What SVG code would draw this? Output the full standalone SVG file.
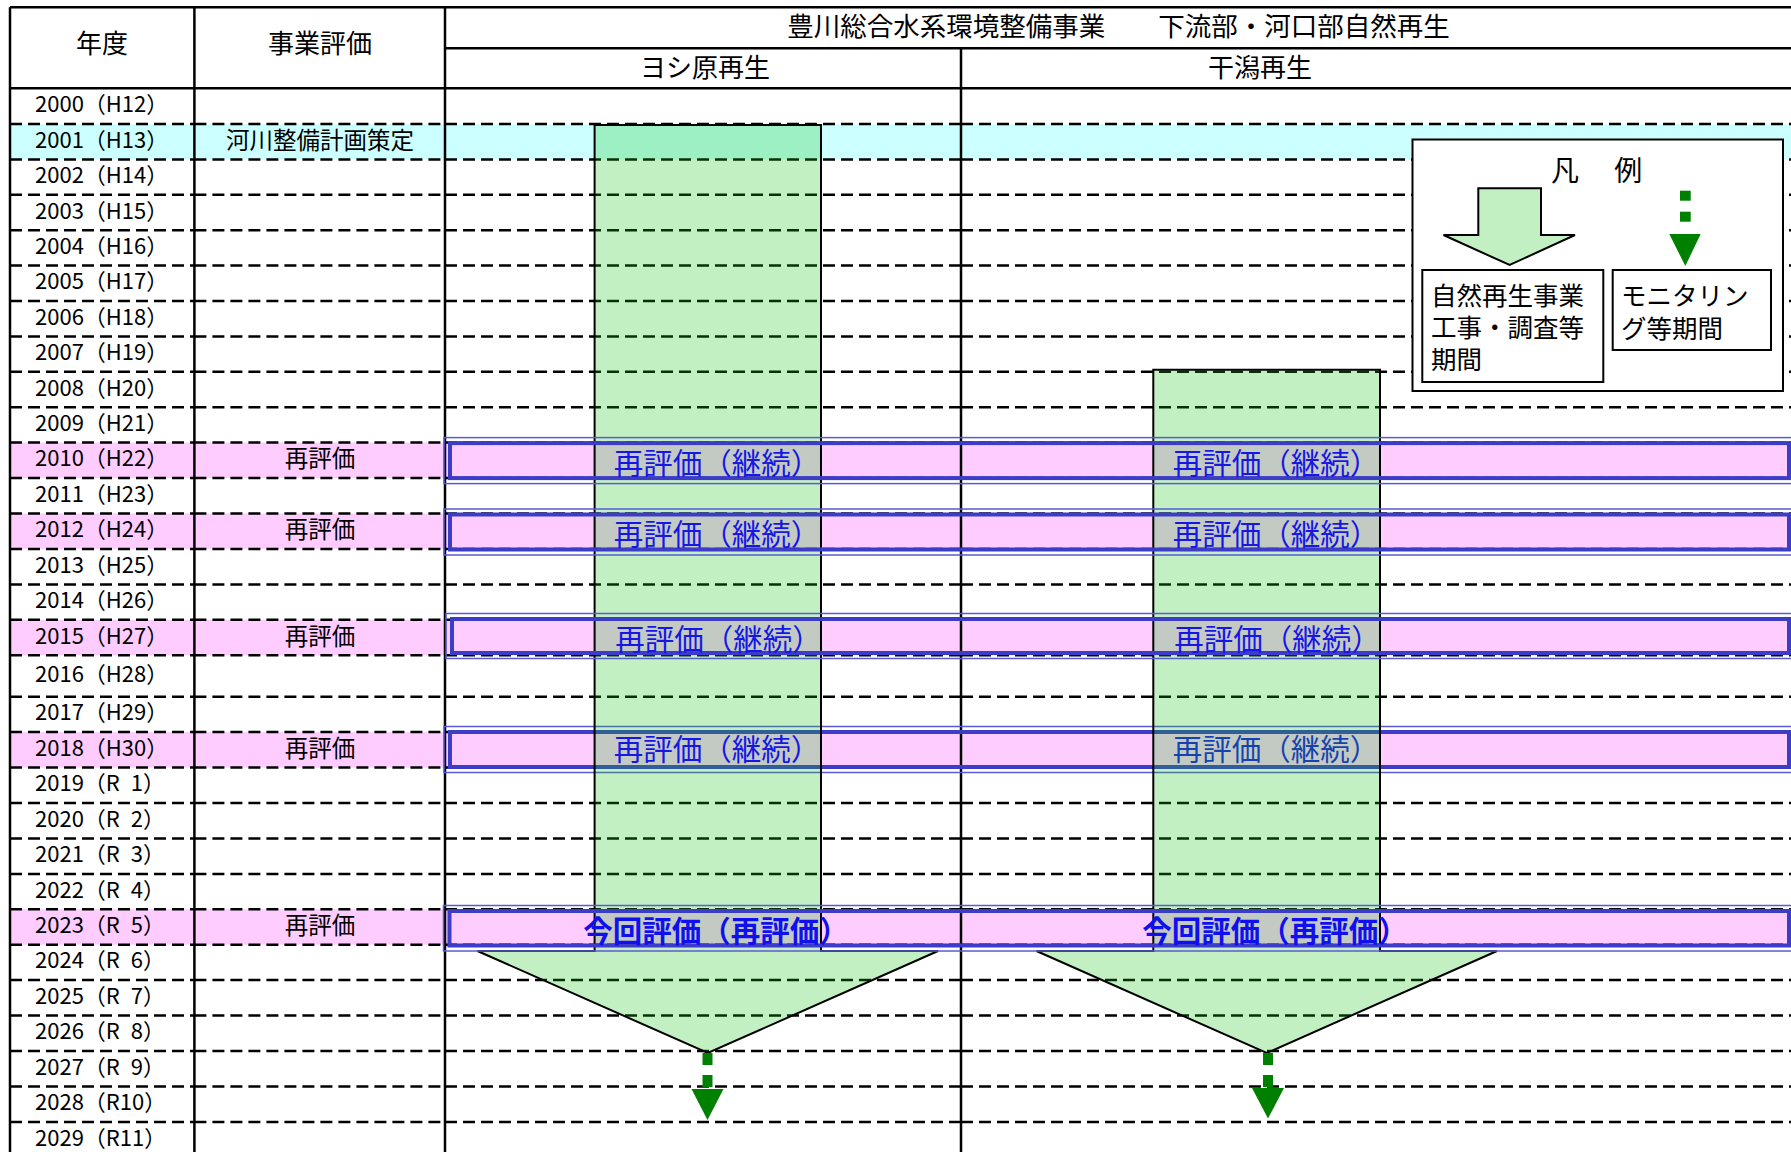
<svg xmlns="http://www.w3.org/2000/svg" width="1791" height="1152" viewBox="0 0 1791 1152">
<style>
text{font-family:"Noto Sans CJK JP","Noto Sans CJK SC",sans-serif;fill:#000}
.yr{font-size:22px}
.lb{font-size:23.5px;text-anchor:middle}
.hd{font-size:26px;text-anchor:middle}
.bt{font-size:29.5px;text-anchor:middle;fill:#1616e6}
.bb{font-size:29.5px;text-anchor:middle;fill:#1010ee;font-weight:700}
.lg{font-size:25.5px}
.dash{fill:none;stroke:#000;stroke-width:2.5;stroke-dasharray:12 6}
.solid{fill:none;stroke:#000;stroke-width:2.5}
.thick{fill:none;stroke:#3c3cc8;stroke-width:4}
.thin{fill:none;stroke:#5a5ad6;stroke-width:1.5}
.arrow{fill:rgb(20,196,20);fill-opacity:0.255;stroke:#000;stroke-width:2;stroke-linejoin:miter}
.mon{fill:#008000}
.box{fill:#fff;stroke:#000;stroke-width:2}
</style>
<rect x="0" y="0" width="1791" height="1152" fill="#fff"/>
<g id="row-fills">
<rect x="10" y="124" width="1781" height="35.4" fill="#ccffff"/>
<rect x="10" y="442.6" width="1781" height="35.5" fill="#ffccff"/>
<rect x="10" y="513.5" width="1781" height="35.4" fill="#ffccff"/>
<rect x="10" y="619.8" width="1781" height="35.5" fill="#ffccff"/>
<rect x="10" y="732.1" width="1781" height="35.5" fill="#ffccff"/>
<rect x="10" y="909.3" width="1781" height="35.4" fill="#ffccff"/>
</g>
<g id="grid">
<path class="dash" d="M10 124H194.4M194.4 124H445M445 124H961M961 124H1791
M10 159.4H194.4M194.4 159.4H445M445 159.4H961M961 159.4H1791
M10 194.8H194.4M194.4 194.8H445M445 194.8H961M961 194.8H1791
M10 230.2H194.4M194.4 230.2H445M445 230.2H961M961 230.2H1791
M10 265.6H194.4M194.4 265.6H445M445 265.6H961M961 265.6H1791
M10 301H194.4M194.4 301H445M445 301H961M961 301H1791
M10 336.4H194.4M194.4 336.4H445M445 336.4H961M961 336.4H1791
M10 371.8H194.4M194.4 371.8H445M445 371.8H961M961 371.8H1791
M10 407.2H194.4M194.4 407.2H445M445 407.2H961M961 407.2H1791
M10 442.6H194.4M194.4 442.6H445M445 442.6H961M961 442.6H1791
M10 478.1H194.4M194.4 478.1H445M445 478.1H961M961 478.1H1791
M10 513.5H194.4M194.4 513.5H445M445 513.5H961M961 513.5H1791
M10 548.9H194.4M194.4 548.9H445M445 548.9H961M961 548.9H1791
M10 584.4H194.4M194.4 584.4H445M445 584.4H961M961 584.4H1791
M10 619.8H194.4M194.4 619.8H445M445 619.8H961M961 619.8H1791
M10 655.3H194.4M194.4 655.3H445M445 655.3H961M961 655.3H1791
M10 696.7H194.4M194.4 696.7H445M445 696.7H961M961 696.7H1791
M10 732.1H194.4M194.4 732.1H445M445 732.1H961M961 732.1H1791
M10 767.6H194.4M194.4 767.6H445M445 767.6H961M961 767.6H1791
M10 803H194.4M194.4 803H445M445 803H961M961 803H1791
M10 838.4H194.4M194.4 838.4H445M445 838.4H961M961 838.4H1791
M10 873.9H194.4M194.4 873.9H445M445 873.9H961M961 873.9H1791
M10 909.3H194.4M194.4 909.3H445M445 909.3H961M961 909.3H1791
M10 944.7H194.4M194.4 944.7H445M445 944.7H961M961 944.7H1791
M10 980.1H194.4M194.4 980.1H445M445 980.1H961M961 980.1H1791
M10 1015.6H194.4M194.4 1015.6H445M445 1015.6H961M961 1015.6H1791
M10 1051H194.4M194.4 1051H445M445 1051H961M961 1051H1791
M10 1086.4H194.4M194.4 1086.4H445M445 1086.4H961M961 1086.4H1791
M10 1121.9H194.4M194.4 1121.9H445M445 1121.9H961M961 1121.9H1791"/>
<path class="solid" d="M10 7.3V1152M194.4 7.3V1152M445 7.3V1152M961 48.3V1152M10 7.3H1791M445 48.3H1791M10 88.3H1791"/>
</g>
<g id="band-2018-under">
<rect class="thin" x="444" y="726.5" width="1351" height="46"/>
<rect class="thick" x="450" y="732" width="1339" height="35"/>
<text class="bt" x="1276" y="760">再評価（継続）</text>
</g>
<g id="arrow-yoshi">
<path class="arrow" d="M594.6 125H821V951H938L707.8 1053L477.5 951H594.6Z"/>
</g>
<g id="arrow-higata">
<path class="arrow" d="M1153.3 369.8H1380V951H1497L1266.7 1053L1036.5 951H1153.3Z"/>
</g>
<g id="bands">
<rect class="thin" x="444" y="437.6" width="1351" height="46"/>
<rect class="thick" x="450" y="443.1" width="1339" height="35"/>
<rect class="thin" x="444" y="509" width="1351" height="46"/>
<rect class="thick" x="450" y="514.5" width="1339" height="35"/>
<rect class="thin" x="446" y="613.5" width="1349" height="45"/>
<rect class="thick" x="452" y="619" width="1337" height="34"/>
<rect class="thin" x="443.5" y="905.5" width="1351.5" height="45.5"/>
<rect class="thick" x="449.5" y="911" width="1339.5" height="34.5"/>
<text class="bt" x="717" y="474">再評価（継続）</text>
<text class="bt" x="1276" y="474">再評価（継続）</text>
<text class="bt" x="717" y="545">再評価（継続）</text>
<text class="bt" x="1276" y="545">再評価（継続）</text>
<text class="bt" x="718.5" y="649.5">再評価（継続）</text>
<text class="bt" x="1277.5" y="649.5">再評価（継続）</text>
<text class="bt" x="717" y="760">再評価（継続）</text>
<text class="bb" x="716" y="941.5">今回評価（再評価）</text>
<text class="bb" x="1275" y="941.5">今回評価（再評価）</text>
</g>
<g id="monitoring-arrows">
<rect class="mon" x="702.5" y="1053" width="10" height="12"/>
<rect class="mon" x="702.5" y="1075" width="10" height="12"/>
<path class="mon" d="M691.5 1089H723.5L707.5 1120Z"/>
<rect class="mon" x="1263" y="1053" width="10" height="12"/>
<rect class="mon" x="1263" y="1075" width="10" height="12"/>
<path class="mon" d="M1252 1088H1284L1268 1118.5Z"/>
</g>
<g id="header">
<text class="hd" x="102" y="53">年度</text>
<text class="hd" x="320" y="53">事業評価</text>
<text class="hd" x="1118.6" y="36" style="font-size:26.5px">豊川総合水系環境整備事業　　下流部・河口部自然再生</text>
<text class="hd" x="705" y="77">ヨシ原再生</text>
<text class="hd" x="1260" y="77">干潟再生</text>
</g>
<g id="years">
<text class="yr" x="35" y="112.2">2000（H12）</text>
<text class="yr" x="35" y="147.7">2001（H13）</text>
<text class="yr" x="35" y="183.1">2002（H14）</text>
<text class="yr" x="35" y="218.5">2003（H15）</text>
<text class="yr" x="35" y="253.9">2004（H16）</text>
<text class="yr" x="35" y="289.3">2005（H17）</text>
<text class="yr" x="35" y="324.7">2006（H18）</text>
<text class="yr" x="35" y="360.1">2007（H19）</text>
<text class="yr" x="35" y="395.5">2008（H20）</text>
<text class="yr" x="35" y="430.9">2009（H21）</text>
<text class="yr" x="35" y="466.4">2010（H22）</text>
<text class="yr" x="35" y="501.8">2011（H23）</text>
<text class="yr" x="35" y="537.2">2012（H24）</text>
<text class="yr" x="35" y="572.7">2013（H25）</text>
<text class="yr" x="35" y="608.1">2014（H26）</text>
<text class="yr" x="35" y="643.6">2015（H27）</text>
<text class="yr" x="35" y="682">2016（H28）</text>
<text class="yr" x="35" y="720.4">2017（H29）</text>
<text class="yr" x="35" y="755.9">2018（H30）</text>
<text class="yr" x="35" y="791.3">2019（R&#x2002;1）</text>
<text class="yr" x="35" y="826.7">2020（R&#x2002;2）</text>
<text class="yr" x="35" y="862.2">2021（R&#x2002;3）</text>
<text class="yr" x="35" y="897.6">2022（R&#x2002;4）</text>
<text class="yr" x="35" y="933">2023（R&#x2002;5）</text>
<text class="yr" x="35" y="968.4">2024（R&#x2002;6）</text>
<text class="yr" x="35" y="1003.9">2025（R&#x2002;7）</text>
<text class="yr" x="35" y="1039.3">2026（R&#x2002;8）</text>
<text class="yr" x="35" y="1074.7">2027（R&#x2002;9）</text>
<text class="yr" x="35" y="1110.2">2028（R10）</text>
<text class="yr" x="35" y="1145.6">2029（R11）</text>
</g>
<g id="evaluations">
<text class="lb" x="320" y="148.6">河川整備計画策定</text>
<text class="lb" x="320" y="467.3">再評価</text>
<text class="lb" x="320" y="538.1">再評価</text>
<text class="lb" x="320" y="644.5">再評価</text>
<text class="lb" x="320" y="756.8">再評価</text>
<text class="lb" x="320" y="933.9">再評価</text>
</g>
<g id="legend">
<rect class="box" x="1412.5" y="139.5" width="370.5" height="251.5"/>
<text x="1551" y="181.4" style="font-size:28px;letter-spacing:3.6px">凡　例</text>
<path d="M1478.3 188.3H1541V235H1575L1509.6 265L1443.5 235H1478.3Z" fill="#c3f0c3" stroke="#000" stroke-width="2"/>
<rect class="mon" x="1680" y="190.7" width="10.7" height="10"/>
<rect class="mon" x="1680" y="211.7" width="10.7" height="10"/>
<path class="mon" d="M1669.3 234H1700.7L1685.3 266Z"/>
<rect class="box" x="1422.3" y="270" width="181" height="112"/>
<text class="lg" x="1431" y="305">自然再生事業</text>
<text class="lg" x="1431" y="337">工事・調査等</text>
<text class="lg" x="1431" y="369">期間</text>
<rect class="box" x="1612.7" y="270" width="158.3" height="80"/>
<text class="lg" x="1621" y="305">モニタリン</text>
<text class="lg" x="1621" y="338">グ等期間</text>
</g>
</svg>
